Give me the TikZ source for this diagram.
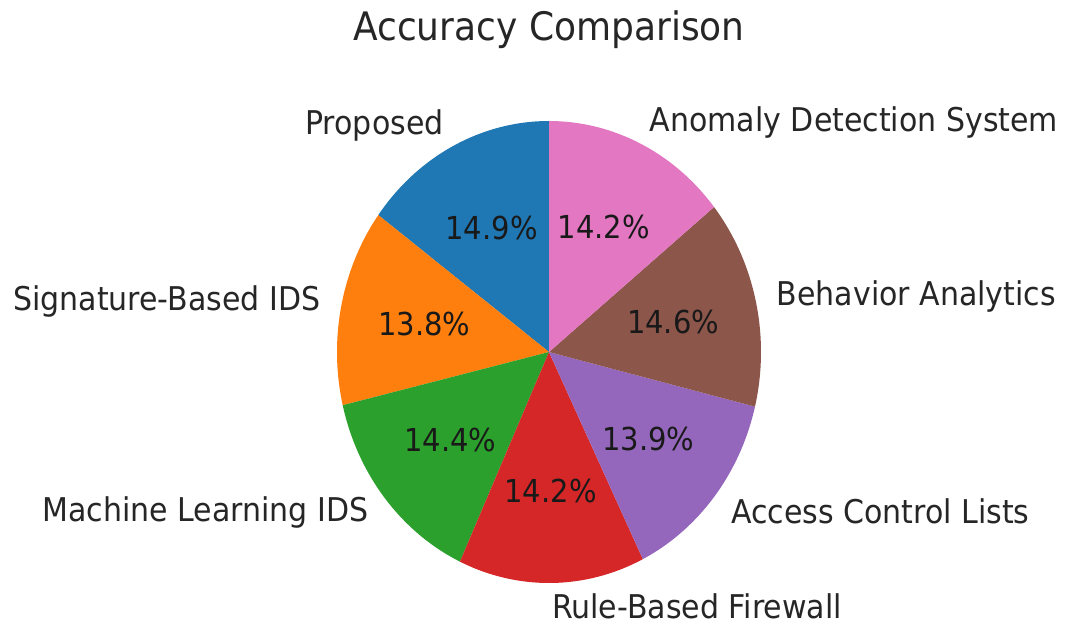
\documentclass[tikz,border=0pt]{standalone}
\usepackage{fontspec}
\setmainfont{DejaVu Sans}
\usetikzlibrary{calc}
\definecolor{tabblue}{HTML}{1F77B4}
\definecolor{taborange}{HTML}{FF7F0E}
\definecolor{tabgreen}{HTML}{2CA02C}
\definecolor{tabred}{HTML}{D62728}
\definecolor{tabpurple}{HTML}{9467BD}
\definecolor{tabbrown}{HTML}{8C564B}
\definecolor{tabpink}{HTML}{E377C2}
\tikzset{
  lbl/.style={font=\fontsize{30}{30}\selectfont, text=black!85, inner sep=0pt, yscale=1.09},
  pct/.style={font=\fontsize{29}{29}\selectfont, text=black!90, inner sep=0pt, yscale=1.09},
  ttl/.style={font=\fontsize{36}{36}\selectfont, text=black!85, inner sep=0pt, yscale=1.09},
}
\begin{document}
\begin{tikzpicture}[x=1pt,y=1pt]
\useasboundingbox[fill=white] (0,0) rectangle (1065,-625);
\coordinate (O) at (549,-352);
% pie wedges, counter-clockwise from the top
\foreach \a/\b/\c in {90/143.64/tabblue, 143.64/193.32/taborange, 193.32/245.16/tabgreen,
  245.16/296.28/tabred, 296.28/346.32/tabpurple, 346.32/398.88/tabbrown, 398.88/450/tabpink}{
  \fill[\c] (O) -- ($(O)+(\a:212pt and 231pt)$)
    arc[start angle=\a, end angle=\b, x radius=212pt, y radius=231pt] -- cycle;
}
% title
\node[ttl] (title) at (549,-30) {Accuracy Comparison};
% category labels
\node[lbl, anchor=east] (lprop) at (443.7,-125.3) {Proposed};
\node[lbl, anchor=east] (lsig) at (320.5,-301.3) {Signature-Based IDS};
\node[lbl, anchor=east] (lml) at (368.4,-512.8) {Machine Learning IDS};
\node[lbl, anchor=west] (lrule) at (551.9,-606.1) {Rule-Based Firewall};
\node[lbl, anchor=west] (lacl) at (731,-510.9) {Access Control Lists};
\node[lbl, anchor=west] (lbeh) at (776.6,-296.6) {Behavior Analytics};
\node[lbl, anchor=west] (lano) at (649.6,-122.8) {Anomaly Detection System};
% percentages
\node[pct] (pprop) at (491.6,-228.3) {14.9\%};
\node[pct] (psig) at (424.4,-324.3) {13.8\%};
\node[pct] (pml) at (450.5,-439.7) {14.4\%};
\node[pct] (prule) at (550.6,-490.6) {14.2\%};
\node[pct] (pacl) at (648.3,-438.7) {13.9\%};
\node[pct] (pbeh) at (673.1,-321.8) {14.6\%};
\node[pct] (pano) at (603.9,-227) {14.2\%};
\end{tikzpicture}
\end{document}
